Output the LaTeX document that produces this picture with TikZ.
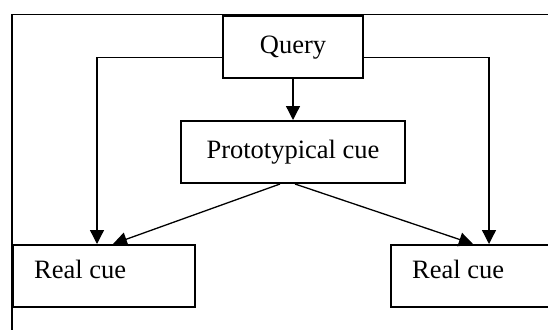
\documentclass[tikz,border=0pt]{standalone}
\usepackage{fontspec}
\setmainfont{Liberation Serif}
\usetikzlibrary{arrows.meta,calc}
\begin{document}
\begin{tikzpicture}[x=1pt,y=1pt,
  box/.style={draw=black,line width=2pt,fill=white,inner sep=0pt,font=\fontsize{26.5}{30}\selectfont},
  conn/.style={line width=1.3pt,-{Triangle[length=14pt,width=14pt]}},
  lbl/.style={anchor=base west,inner sep=0pt,font=\fontsize{26.5}{30}\selectfont}]
\useasboundingbox (0,0) rectangle (548,-329);
\clip (0,0) rectangle (548,-329);
% outer frame
\draw[line width=1.8pt] (12,-345) -- (12,-14.5) -- (560,-14.5);
% nodes
\node[box,minimum width=140,minimum height=61.5] (q) at (293,-47.2) {Query};
\node[box,minimum width=224,minimum height=62] (pc) at (293,-152) {\raisebox{3pt}{Prototypical cue}};
\node[box,minimum width=182,minimum height=62] (rl) at (104,-276) {};
\node[box,minimum width=182,minimum height=62] (rr) at (482,-276) {};
\node[lbl] (tl) at (34,-278.7) {Real cue};
\node[lbl] (tr) at (412,-278.7) {Real cue};
% connectors
\draw[conn] (q.south) -- (pc.north);
\draw[conn] ([yshift=-10pt]q.west) -| ([xshift=-7pt]rl.north);
\draw[conn] ([yshift=-10pt]q.east) -| ([xshift=7pt]rr.north);
\draw[conn] ([xshift=-13pt]pc.south) -- ([xshift=9pt]rl.north);
\draw[conn] ([xshift=2pt]pc.south) -- ([xshift=-9pt]rr.north);
\end{tikzpicture}
\end{document}
